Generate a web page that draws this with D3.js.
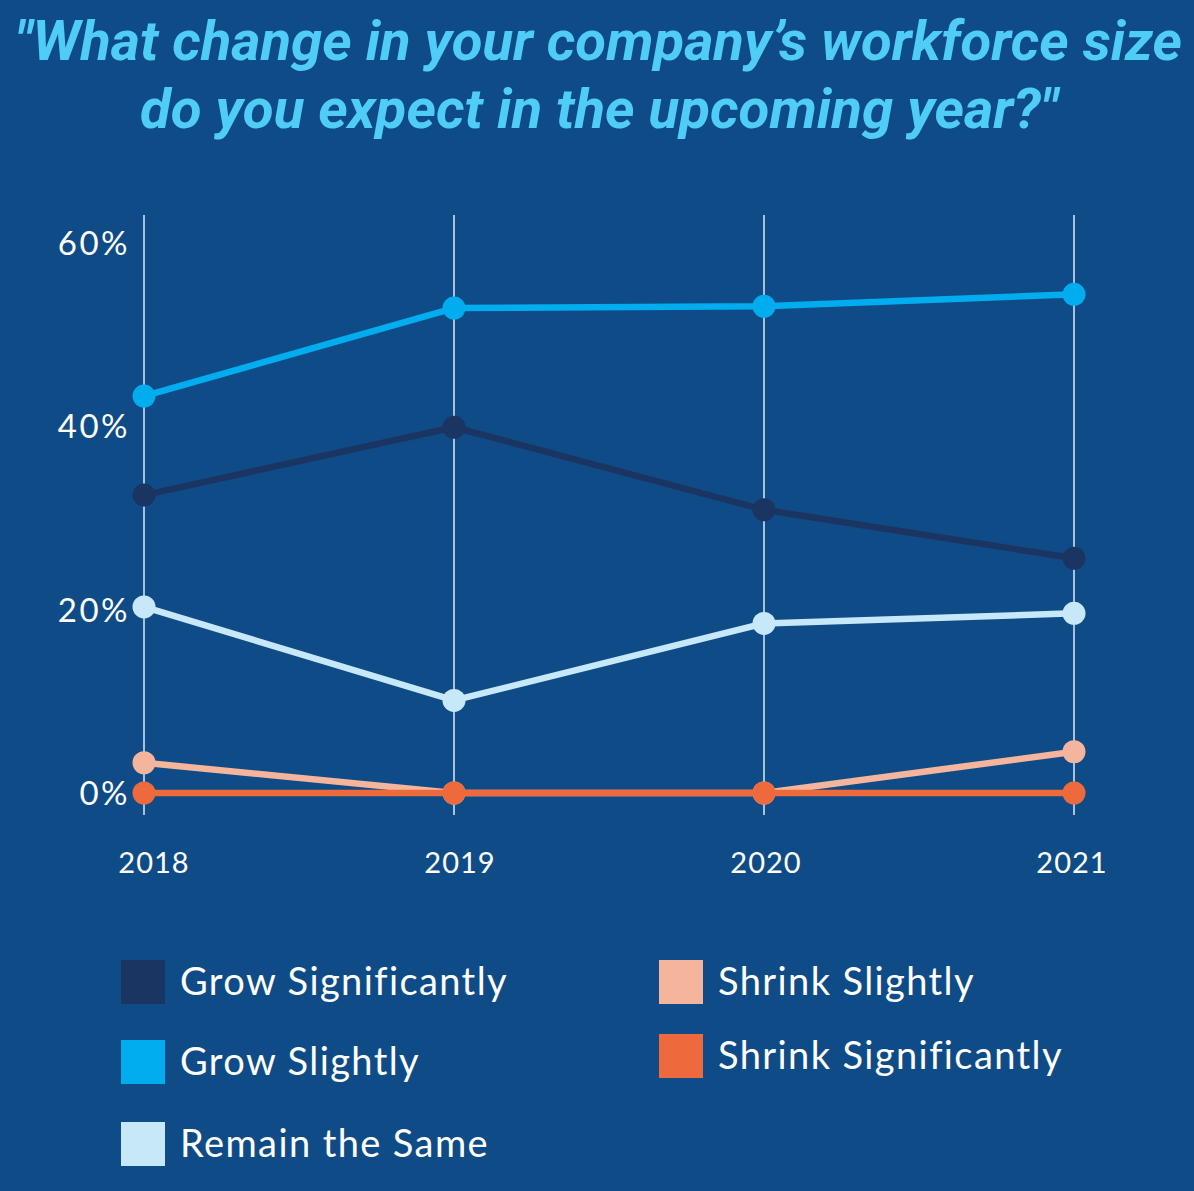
<!DOCTYPE html>
<html><head><meta charset="utf-8">
<script src="https://cdn.jsdelivr.net/npm/d3@7"></script>
<style>html,body{margin:0;padding:0;background:#0f4c87;}svg{display:block;}</style>
</head><body>
<svg id="chart" width="1194" height="1191"></svg>
<script>
const years = ["2018","2019","2020","2021"];
const seriesNames = ["Grow Significantly","Grow Slightly","Remain the Same","Shrink Slightly","Shrink Significantly"];
const growSignificantly = [32.5, 39.9, 30.9, 25.6];
const growSlightly = [43.3, 52.9, 53.1, 54.4];
const remainSame = [20.3, 10.1, 18.5, 19.6];
const shrinkSlightly = [3.3, 0, 0, 4.5];
const shrinkSignificantly = [0, 0, 0, 0];
const yTicks = [0, 20, 40, 60];
const colors = ["#1b3563","#02adef","#c6e8f9","#f5b59d","#ee6a3c"];
const titleLines = ["\"What change in your company’s workforce size", "do you expect in the upcoming year?\""];

const seriesValues = [growSignificantly, growSlightly, remainSame, shrinkSlightly, shrinkSignificantly];
const svg = d3.select("#chart");
svg.append("rect").attr("width",1194).attr("height",1191).attr("fill","#0f4c87");

// title
const titleWidths = [1167, 918];
svg.append("g").selectAll("text").data(titleLines).join("text")
  .attr("x", (d,i)=> i===0 ? 15 : 140).attr("y", (d,i)=>60 + i*68)
  .attr("font-family","Roboto").attr("font-weight",700).attr("font-style","italic")
  .attr("font-size",55).attr("fill","#4fcdf7")
  .attr("textLength",(d,i)=>titleWidths[i]).attr("lengthAdjust","spacingAndGlyphs")
  .text(d=>d);

const x = d3.scalePoint().domain(years).range([144,1074]);
const y = d3.scaleLinear().domain([0,60]).range([793,243]);

// vertical gridlines
svg.append("g").selectAll("line").data(years).join("line")
  .attr("x1",d=>x(d)).attr("x2",d=>x(d)).attr("y1",215).attr("y2",815)
  .attr("stroke","#dbe9f7").attr("stroke-width",1.5);

// y tick labels
svg.append("g").selectAll("text").data(yTicks).join("text")
  .attr("x",130).attr("y",d=>y(d)+12).attr("text-anchor","end")
  .attr("font-family","Lato").attr("font-weight",400).attr("font-size",33)
  .attr("letter-spacing",2.5).attr("fill","#ffffff")
  .text(d=>d+"%");

// x labels
const xl = d3.scalePoint().domain(years).range([154,1072]);
svg.append("g").selectAll("text").data(years).join("text")
  .attr("x",d=>xl(d)).attr("y",873).attr("text-anchor","middle")
  .attr("font-family","Lato").attr("font-weight",400).attr("font-size",29)
  .attr("letter-spacing",1).attr("fill","#ffffff")
  .text(d=>d);

const line = d3.line().x((d,i)=>x(years[i])).y(d=>y(d));
const drawOrder = [3,4,2,0,1];
drawOrder.forEach(k=>{
  const g = svg.append("g");
  g.append("path").attr("d",line(seriesValues[k])).attr("fill","none")
    .attr("stroke",colors[k]).attr("stroke-width",6.5).attr("stroke-linejoin","round");
  g.selectAll("circle").data(seriesValues[k]).join("circle")
    .attr("cx",(d,i)=>x(years[i])).attr("cy",d=>y(d)).attr("r",11.5).attr("fill",colors[k]);
});

// legend
const legendPos = [[121,960],[121,1040],[121,1122],[659,960],[659,1034]];
const lg = svg.append("g");
seriesNames.forEach((n,k)=>{
  lg.append("rect").attr("x",legendPos[k][0]).attr("y",legendPos[k][1]).attr("width",44).attr("height",44).attr("fill",colors[k]);
  lg.append("text").attr("x",legendPos[k][0]+59).attr("y",legendPos[k][1]+35)
    .attr("font-family","Lato").attr("font-weight",400).attr("font-size",38)
    .attr("letter-spacing",1.4).attr("fill","#ffffff")
    .text(n);
});
</script>
</body></html>
